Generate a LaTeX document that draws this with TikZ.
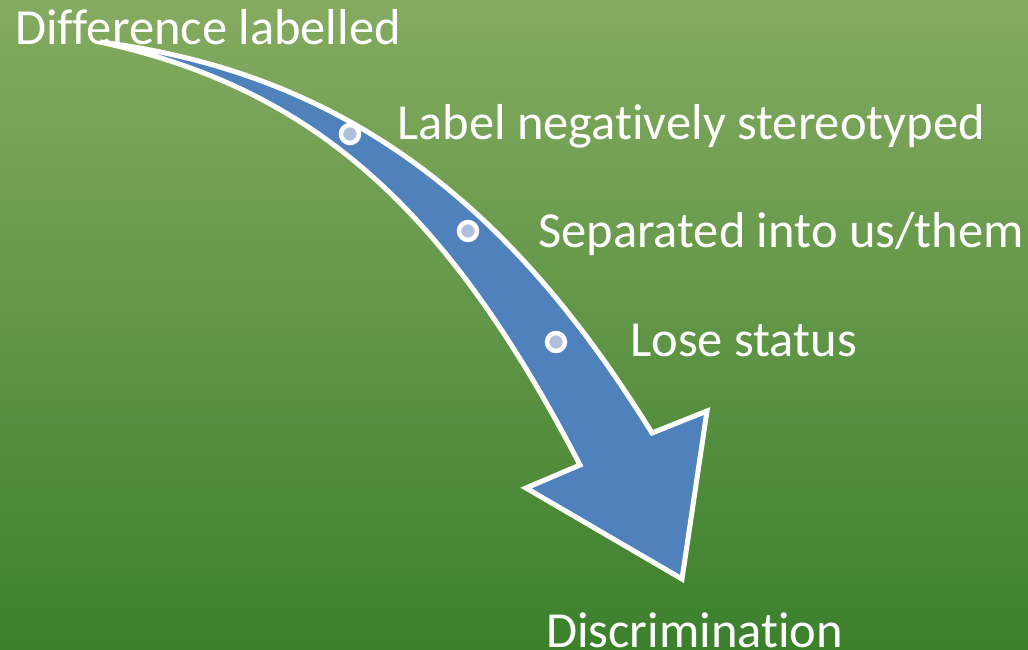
\documentclass[tikz,border=0pt]{standalone}
\usepackage{fontspec}
\setmainfont[Ligatures=NoCommon]{Carlito}
\definecolor{bgtop}{RGB}{133,171,97}
\definecolor{bgbot}{RGB}{60,128,44}
\definecolor{arrowblue}{RGB}{79,129,189}
\definecolor{dotfill}{RGB}{176,192,220}
\tikzset{
  lbl/.style={anchor=base west, inner sep=0pt, text=white, font=\fontsize{50.5}{58}\selectfont},
  dot/.style={circle, draw=white, line width=4.5pt, fill=dotfill, minimum size=18pt, inner sep=0pt}
}
\begin{document}
\begin{tikzpicture}[x=1pt,y=-1pt]
\useasboundingbox (0,0) rectangle (1028,650);
\shade[top color=bgtop, bottom color=bgbot] (0,0) rectangle (1028,650);
% curved arrow
\draw[white, line width=5pt, fill=arrowblue, line join=miter]
  (100,42) .. controls (360,75) and (520,220) .. (652,433)
  -- (707,411) -- (682,579) -- (526,488) -- (580,465)
  .. controls (450,215) and (320,90) .. (100,42) -- cycle;
\node[dot] (d1) at (350,134) {};
\node[dot] (d2) at (468,231) {};
\node[dot] (d3) at (556,342) {};
\node[lbl] (t0) at (15,45) {Difference labelled};
\node[lbl] (t1) at (397,140) {Label negatively stereotyped};
\node[lbl] (t2) at (538,247) {Separated into us/them};
\node[lbl] (t3) at (630,356) {Lose status};
\node[lbl] (t4) at (546,647) {Discrimination};
\end{tikzpicture}
\end{document}
